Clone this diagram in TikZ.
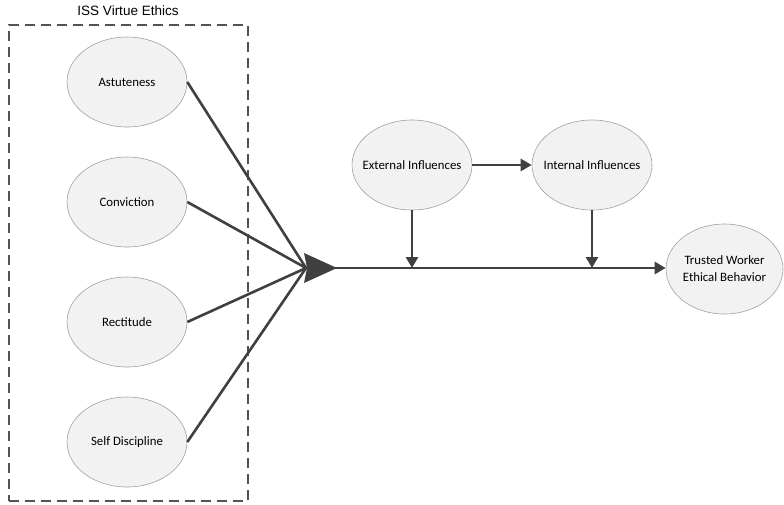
\documentclass[tikz,border=0pt]{standalone}
\usepackage{fontspec}
\setmainfont{Carlito}
\newfontfamily\arialfont{Liberation Sans}
\usetikzlibrary{arrows.meta,shapes.geometric}
\definecolor{linegray}{RGB}{64,64,64}
\definecolor{ellfill}{RGB}{242,242,242}
\definecolor{ellborder}{RGB}{160,160,160}
\tikzset{
  oval/.style={ellipse, draw=ellborder, line width=0.6pt, fill=ellfill,
    minimum width=120pt, minimum height=90pt, inner xsep=-12pt, inner ysep=0pt, font=\fontsize{12.8}{17}\selectfont, align=center},
  conn/.style={draw=linegray, line width=2.6pt},
  arr/.style={conn, -{Triangle[length=11pt,width=12pt]}},
  groupbox/.style={draw=linegray!90, line width=1.3pt, dash pattern=on 10pt off 6pt}
}
\begin{document}
\begin{tikzpicture}[x=1pt,y=-1pt]
\useasboundingbox (0,0) rectangle (784,504);
% group box
\node[groupbox, minimum width=239pt, minimum height=476pt, inner sep=0pt] (box) at (128.5,263) {};
\node[font=\arialfont\fontsize{13.5}{15}\selectfont] (title) at (128,11) {ISS Virtue Ethics};
% virtue ellipses
\node[oval] (ast) at (127,82) {Astuteness};
\node[oval] (con) at (127,202) {Conviction};
\node[oval] (rec) at (127,322) {Rectitude};
\node[oval] (sd) at (127,442) {Self Discipline};
% other ellipses
\node[oval] (ext) at (412,165) {External Influences};
\node[oval] (int) at (592,165) {Internal Influences};
\node[oval, minimum width=117pt] (tw) at (724.5,269) {Trusted Worker\\Ethical Behavior};
% hub
\coordinate (hub) at (306,268);
\coordinate (j1) at (412,268);
\coordinate (j2) at (592,268);
\draw[conn] (ast.east) -- (hub);
\draw[conn] (con.east) -- (hub);
\draw[conn] (rec.east) -- (hub);
\draw[conn] (sd.east) -- (hub);
\fill[linegray] (hub) ++(-2,-15) -- ++(33,15) -- ++(-33,15) -- ++(3,-15) -- cycle;
\draw[arr] (hub) -- (tw.west |- hub);
\draw[arr] (ext.east) -- (int.west);
\draw[arr] (ext.south) -- (j1);
\draw[arr] (int.south) -- (j2);
\end{tikzpicture}
\end{document}
